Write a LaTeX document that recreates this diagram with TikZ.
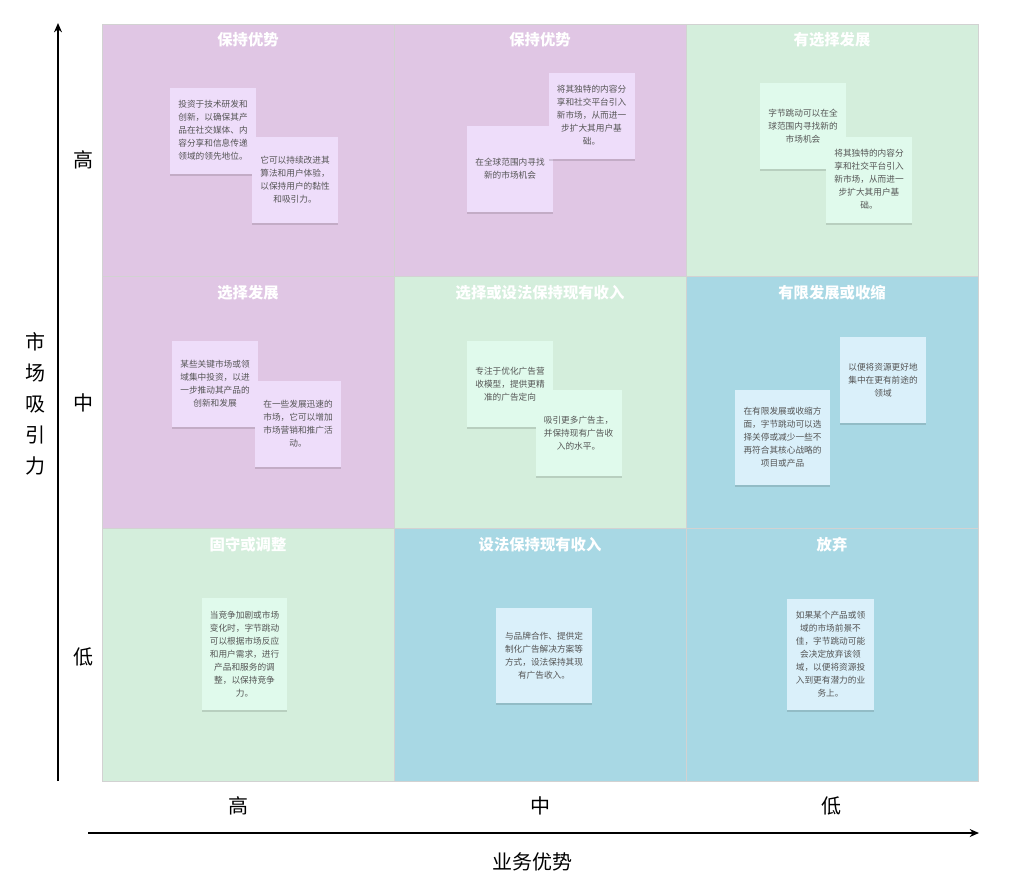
\documentclass[tikz,border=0pt]{standalone}
\usepackage{fontspec}
\setmainfont{Noto Sans CJK SC}
\usetikzlibrary{arrows.meta,shadows}
\definecolor{cpur}{HTML}{E0C6E4}
\definecolor{cgrn}{HTML}{D4EEDC}
\definecolor{cblu}{HTML}{A8D8E4}
\definecolor{npur}{HTML}{EEDDFA}
\definecolor{ngrn}{HTML}{E0FAEC}
\definecolor{nblu}{HTML}{DAF0FA}
\definecolor{ntext}{HTML}{555555}
\definecolor{cellline}{HTML}{D2D2D2}
\tikzset{
  cell/.style={draw=cellline, line width=0.5pt, minimum width=219pt, minimum height=189.375pt, inner sep=0pt},
  celltitle/.style={text=white, font=\fontsize{11.5}{13}\selectfont\bfseries, inner sep=0pt},
  note/.style={inner sep=0pt, align=center, text=ntext, font=\fontsize{6.5}{9.75}\selectfont,
    minimum width=64.5pt, minimum height=64.5pt,
    drop shadow={shadow xshift=0.2pt, shadow yshift=-1.5pt, opacity=0.13, fill=black}},
  axlabel/.style={font=\fontsize{15}{18}\selectfont, text=black, inner sep=0pt},
  axis/.style={line width=1pt, -{Stealth[length=7pt,width=6pt]}}
}
\begin{document}
\begin{tikzpicture}[x=0.75pt,y=-0.75pt]
\useasboundingbox[fill=white] (0,0) rectangle (1032,883);
% cells
\node[cell, fill=cpur] (c11) at (248,150.5) {};
\node[cell, fill=cpur] (c12) at (540,150.5) {};
\node[cell, fill=cgrn] (c13) at (832,150.5) {};
\node[cell, fill=cpur] (c21) at (248,403) {};
\node[cell, fill=cgrn] (c22) at (540,403) {};
\node[cell, fill=cblu] (c23) at (832,403) {};
\node[cell, fill=cgrn] (c31) at (248,655) {};
\node[cell, fill=cblu] (c32) at (540,655) {};
\node[cell, fill=cblu] (c33) at (832,655) {};
% titles
\node[celltitle] (t11) at (248,40) {保持优势};
\node[celltitle] (t12) at (540,40) {保持优势};
\node[celltitle] (t13) at (832,40) {有选择发展};
\node[celltitle] (t21) at (248,293) {选择发展};
\node[celltitle] (t22) at (540,293) {选择或设法保持现有收入};
\node[celltitle] (t23) at (832,293) {有限发展或收缩};
\node[celltitle] (t31) at (248,545) {固守或调整};
\node[celltitle] (t32) at (540,545) {设法保持现有收入};
\node[celltitle] (t33) at (832,545) {放弃};
% notes row 1
\node[note, fill=npur] (n11a) at (213,130.5) {投资于技术研发和\\创新，以确保其产\\品在社交媒体、内\\容分享和信息传递\\领域的领先地位。};
\node[note, fill=npur] (n11b) at (295,179.5) {它可以持续改进其\\算法和用户体验，\\以保持用户的黏性\\和吸引力。};
\node[note, fill=npur] (n12a) at (510,169) {在全球范围内寻找\\新的市场机会};
\node[note, fill=npur] (n12b) at (591.5,115.5) {将其独特的内容分\\享和社交平台引入\\新市场，从而进一\\步扩大其用户基\\础。};
\node[note, fill=ngrn] (n13a) at (803,126) {字节跳动可以在全\\球范围内寻找新的\\市场机会};
\node[note, fill=ngrn] (n13b) at (869,179.5) {将其独特的内容分\\享和社交平台引入\\新市场，从而进一\\步扩大其用户基\\础。};
% notes row 2
\node[note, fill=npur] (n21a) at (215,384) {某些关键市场或领\\域集中投资，以进\\一步推动其产品的\\创新和发展};
\node[note, fill=npur] (n21b) at (298,424) {在一些发展迅速的\\市场，它可以增加\\市场营销和推广活\\动。};
\node[note, fill=ngrn] (n22a) at (510,384) {专注于优化广告营\\收模型，提供更精\\准的广告定向};
\node[note, fill=ngrn] (n22b) at (578.5,433) {吸引更多广告主，\\并保持现有广告收\\入的水平。};
\node[note, fill=nblu] (n23a) at (883,380) {以便将资源更好地\\集中在更有前途的\\领域};
\node[note, fill=nblu, minimum width=71.25pt, minimum height=71.25pt] (n23b) at (782.5,437.5) {在有限发展或收缩方\\面，字节跳动可以选\\择关停或减少一些不\\再符合其核心战略的\\项目或产品};
% notes row 3
\node[note, fill=ngrn, minimum width=63.75pt, minimum height=84pt] (n31) at (244.5,654) {当竞争加剧或市场\\变化时，字节跳动\\可以根据市场反应\\和用户需求，进行\\产品和服务的调\\整，以保持竞争\\力。};
\node[note, fill=nblu, minimum width=72pt, minimum height=71.25pt] (n32) at (544,655.5) {与品牌合作、提供定\\制化广告解决方案等\\方式，设法保持其现\\有广告收入。};
\node[note, fill=nblu, minimum width=65.25pt, minimum height=83.25pt] (n33) at (830.5,654.5) {如果某个产品或领\\域的市场前景不\\佳，字节跳动可能\\会决定放弃该领\\域，以便将资源投\\入到更有潜力的业\\务上。};
% axes
\coordinate (yb) at (58,781);
\coordinate (yt) at (58,23);
\coordinate (xl) at (88,833);
\coordinate (xr) at (979,833);
\draw[axis] (yb) -- (yt);
\draw[axis] (xl) -- (xr);
\node[axlabel] (yh) at (83,160) {高};
\node[axlabel] (ym) at (83,403) {中};
\node[axlabel] (yl) at (83,657) {低};
\node[axlabel] (xh) at (238,806) {高};
\node[axlabel] (xm) at (540,806) {中};
\node[axlabel] (xlo) at (831,806) {低};
\node[axlabel, align=center, font=\fontsize{15}{23.25}\selectfont] (ytitle) at (36,404) {市\\场\\吸\\引\\力};
\node[axlabel] (xtitle) at (532,862) {业务优势};
\end{tikzpicture}
\end{document}
